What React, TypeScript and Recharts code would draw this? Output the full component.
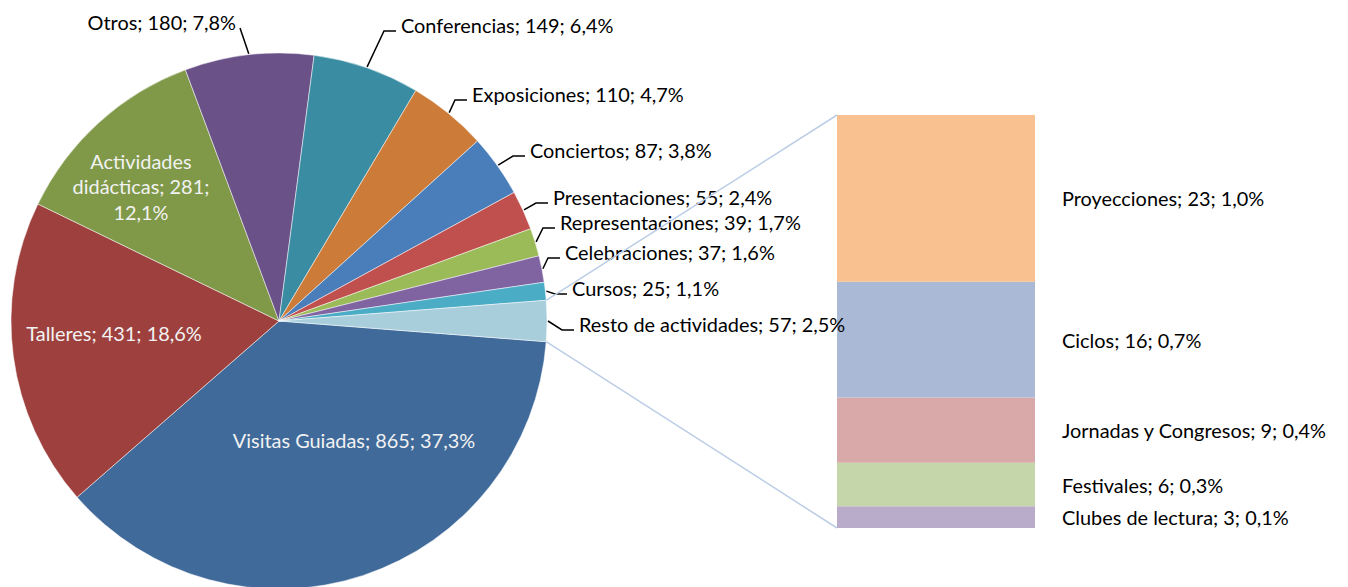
import { Bar, BarChart, Cell, LabelList, Pie, PieChart, XAxis, YAxis } from "recharts";

// main pie, clockwise from the right side
const mainNames = [
	"Visitas Guiadas",
	"Talleres",
	"Actividades didácticas",
	"Otros",
	"Conferencias",
	"Exposiciones",
	"Conciertos",
	"Presentaciones",
	"Representaciones",
	"Celebraciones",
	"Cursos",
	"Resto de actividades",
];
const mainValues = [865, 431, 281, 180, 149, 110, 87, 55, 39, 37, 25, 57];
const mainColors = [
	"#3F6A9A",
	"#9E413E",
	"#7F9948",
	"#6A5188",
	"#3A8CA3",
	"#CC7B38",
	"#4A7EBB",
	"#C0504D",
	"#9BBB59",
	"#8064A2",
	"#4BACC6",
	"#A8CEDC",
];

// breakdown of "Resto de actividades", top to bottom
const restoNames = ["Proyecciones", "Ciclos", "Jornadas y Congresos", "Festivales", "Clubes de lectura"];
const restoValues = [23, 16, 9, 6, 3];
const restoColors = ["#F9C190", "#A9B9D6", "#D9A9A9", "#C5D6AB", "#B8ACCA"];

const FONT = "Lato, 'Open Sans', sans-serif";
const FONT_SIZE = 19.9;
const RAD = Math.PI / 180;

const PIE_CX = 279;
const PIE_CY = 321;
const PIE_R = 268;

const BAR_X = 837;
const BAR_Y = 115;
const BAR_W = 198;
const BAR_H = 413;

const total = mainValues.reduce((a, b) => a + b, 0);
const restoIndex = mainNames.length - 1;
// the split slice sits centred on 3 o'clock
const startAngle = -((mainValues[restoIndex] / total) * 360) / 2;

const pct = (v: number) => `${((v / total) * 100).toFixed(1).replace(".", ",")}%`;

const pieData = mainNames.map((name, i) => ({ name, value: mainValues[i] }));

const barRow: Record<string, number | string> = { cat: "Resto" };
restoNames.forEach((_, i) => {
	barRow[`s${i}`] = restoValues[i];
});

// where each pie label sits (text anchor point, vertical centre)
const labelSpots: Record<string, { x: number; y: number; anchor: "start" | "middle" | "end"; inside?: boolean }> = {
	"Visitas Guiadas": { x: 354, y: 440, anchor: "middle", inside: true },
	Talleres: { x: 114, y: 333, anchor: "middle", inside: true },
	"Actividades didácticas": { x: 141, y: 186, anchor: "middle", inside: true },
	Otros: { x: 236, y: 22, anchor: "end" },
	Conferencias: { x: 401, y: 25, anchor: "start" },
	Exposiciones: { x: 472, y: 94, anchor: "start" },
	Conciertos: { x: 530, y: 150, anchor: "start" },
	Presentaciones: { x: 553, y: 197, anchor: "start" },
	Representaciones: { x: 560, y: 222, anchor: "start" },
	Celebraciones: { x: 565, y: 252, anchor: "start" },
	Cursos: { x: 572, y: 288, anchor: "start" },
	"Resto de actividades": { x: 579, y: 324, anchor: "start" },
};

const wrapped = ["Actividades didácticas"];

function polar(cx: number, cy: number, r: number, angle: number) {
	return [cx + r * Math.cos(-angle * RAD), cy + r * Math.sin(-angle * RAD)];
}

function renderPieLabel(props: any) {
	const { cx, cy, outerRadius, midAngle, index, name, value } = props;
	const spot = labelSpots[name];
	if (!spot) return null;
	const text = `${name}; ${value}; ${pct(value)}`;
	const fill = spot.inside ? "#F2F2F2" : "#000000";

	let lines = [text];
	if (wrapped.includes(name)) {
		const words = name.split(" ");
		lines = [words[0], `${words.slice(1).join(" ")}; ${value};`, pct(value)];
	}
	const lineH = 25.5;
	const y0 = spot.y - ((lines.length - 1) * lineH) / 2;

	let leader = null;
	if (!spot.inside) {
		const [ex, ey] = polar(cx, cy, outerRadius + 1, midAngle);
		const ly = spot.y + 6;
		const pts =
			spot.anchor === "end"
				? `${ex},${ey} ${spot.x + 4},${ly}`
				: `${ex},${ey} ${spot.x - 17},${ly} ${spot.x - 5},${ly}`;
		leader = <polyline points={pts} fill="none" stroke="#000" strokeWidth={1.5} />;
	}

	let connectors = null;
	if (index === restoIndex) {
		const [tx, ty] = polar(cx, cy, outerRadius, props.startAngle);
		const [bx, by] = polar(cx, cy, outerRadius, props.endAngle);
		connectors = (
			<g stroke="#BCCDE6" strokeWidth={1.5}>
				<line x1={tx} y1={ty} x2={BAR_X} y2={BAR_Y} />
				<line x1={bx} y1={by} x2={BAR_X} y2={BAR_Y + BAR_H} />
			</g>
		);
	}

	return (
		<g>
			{connectors}
			{leader}
			<text
				x={spot.x}
				y={y0}
				fill={fill}
				textAnchor={spot.anchor}
				dominantBaseline="central"
				fontFamily={FONT}
				fontSize={FONT_SIZE}
			>
				{lines.map((l, i) => (
					<tspan key={i} x={spot.x} dy={i === 0 ? 0 : lineH}>
						{l}
					</tspan>
				))}
			</text>
		</g>
	);
}

function barLabel(i: number) {
	return (props: any) => {
		const { x, y, width, height } = props;
		const v = restoValues[i];
		return (
			<text
				x={Number(x) + Number(width) + 27}
				y={Number(y) + Number(height) / 2}
				fill="#000"
				dominantBaseline="central"
				fontFamily={FONT}
				fontSize={FONT_SIZE}
			>
				{`${restoNames[i]}; ${v}; ${pct(v)}`}
			</text>
		);
	};
}

export default function App() {
	const restoTotal = restoValues.reduce((a, b) => a + b, 0);
	// recharts stacks the first bar at the bottom
	const order = restoNames.map((_, i) => i).reverse();

	return (
		<div
			style={{
				position: "absolute",
				left: 0,
				top: 0,
				width: 1348,
				height: 587,
				background: "#fff",
				overflow: "hidden",
				fontFamily: FONT,
			}}
		>
			<div style={{ position: "absolute", left: BAR_X, top: BAR_Y }}>
				<BarChart
					width={BAR_W + 320}
					height={BAR_H}
					data={[barRow]}
					margin={{ top: 0, right: 320, bottom: 0, left: 0 }}
					barCategoryGap={0}
				>
					<XAxis dataKey="cat" hide />
					<YAxis hide domain={[0, restoTotal]} />
					{order.map((i) => (
						<Bar key={i} dataKey={`s${i}`} stackId="resto" fill={restoColors[i]} isAnimationActive={false}>
							<LabelList dataKey={`s${i}`} content={barLabel(i)} />
						</Bar>
					))}
				</BarChart>
			</div>
			<div style={{ position: "absolute", left: 0, top: 0, pointerEvents: "none" }}>
				<PieChart width={1348} height={587} margin={{ top: 0, right: 0, bottom: 0, left: 0 }}>
					<Pie
						data={pieData}
						dataKey="value"
						nameKey="name"
						cx={PIE_CX}
						cy={PIE_CY}
						outerRadius={PIE_R}
						startAngle={startAngle}
						endAngle={startAngle - 360}
						stroke="#ffffff"
						strokeWidth={0.5}
						label={renderPieLabel}
						labelLine={false}
						isAnimationActive={false}
					>
						{pieData.map((_, i) => (
							<Cell key={i} fill={mainColors[i]} />
						))}
					</Pie>
				</PieChart>
			</div>
		</div>
	);
}
